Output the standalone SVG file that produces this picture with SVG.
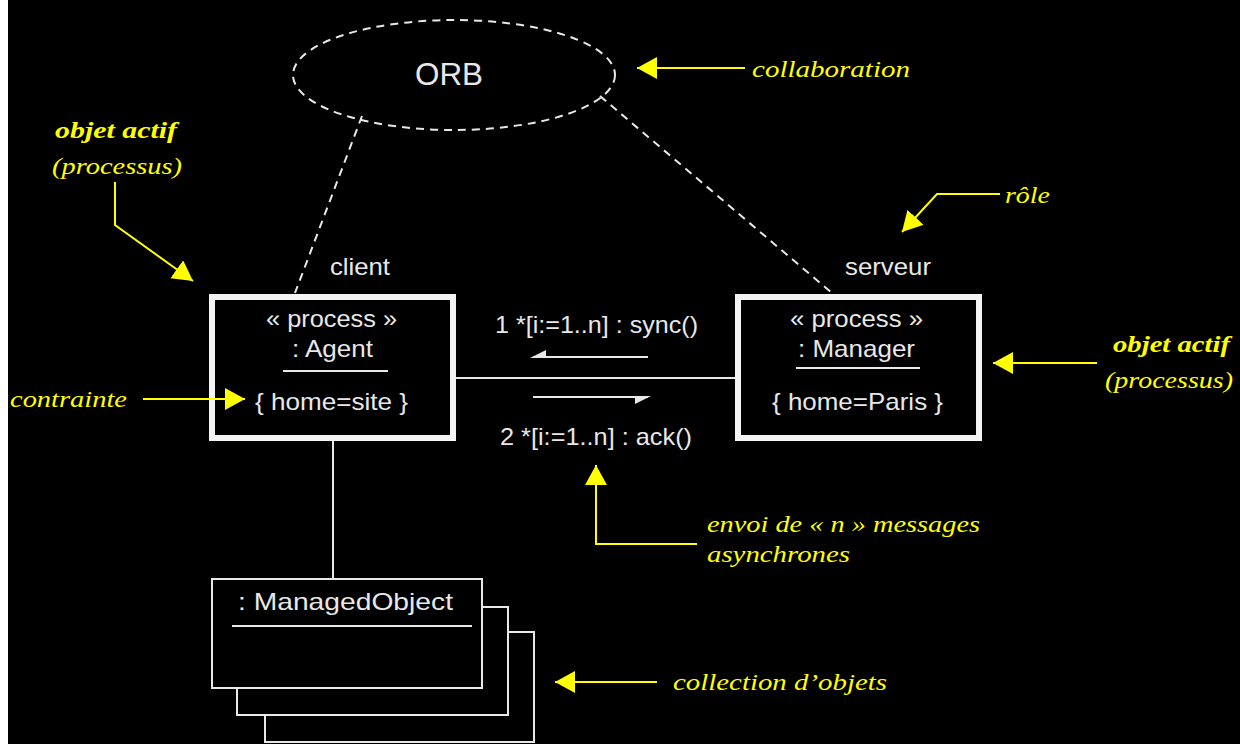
<svg xmlns="http://www.w3.org/2000/svg" width="1240" height="744" viewBox="0 0 1240 744">
<defs>
<style>
.w{font-family:"Liberation Sans",Arial,sans-serif;font-size:24px;fill:#e8e8e8}
.y{font-family:"Liberation Serif","Times New Roman",serif;font-style:italic;font-size:24px;fill:#ffff00}
.yb{font-weight:bold}
.box{fill:none;stroke:#f4f4f4;stroke-width:6}
.thin{fill:none;stroke:#e8e8e8;stroke-width:2}
.dash{fill:none;stroke:#e8e8e8;stroke-width:2;stroke-dasharray:8 6}
.ya{fill:none;stroke:#ffff00;stroke-width:2;marker-end:url(#yarrow)}
.half{fill:#e8e8e8}
</style>
<marker id="yarrow" markerUnits="userSpaceOnUse" markerWidth="22" markerHeight="24" refX="20" refY="11" orient="auto" viewBox="0 0 22 24">
<path d="M0,0 L20,11 L0,22 z" fill="#ffff00"/>
</marker>
</defs>
<rect x="0" y="0" width="1240" height="744" fill="#ffffff"/>
<rect x="8" y="0" width="1232" height="744" fill="#000000"/>

<g id="connectors">
<line class="dash" x1="362" y1="116" x2="295" y2="293"/>
<line class="dash" x1="600" y1="96" x2="832" y2="293"/>
<line class="thin" x1="456" y1="378" x2="735" y2="378"/>
<line class="thin" x1="333" y1="441" x2="333" y2="579"/>
<line class="thin" x1="533" y1="357" x2="648" y2="357"/>
<polygon class="half" points="530,358 546,350 546,358"/>
<line class="thin" x1="533" y1="397" x2="648" y2="397"/>
<polygon class="half" points="651,396 635,396 635,404"/>
<text class="w" x="495" y="333" textLength="203" lengthAdjust="spacingAndGlyphs">1 *[i:=1..n] : sync()</text>
<text class="w" x="500" y="445" textLength="192" lengthAdjust="spacingAndGlyphs">2 *[i:=1..n] : ack()</text>
</g>

<g id="orb">
<ellipse class="dash" cx="454" cy="75" rx="161" ry="55"/>
<text class="w" x="449" y="85" text-anchor="middle" style="font-size:31px" textLength="68" lengthAdjust="spacingAndGlyphs">ORB</text>
</g>

<g id="agent">
<text class="w" x="330" y="275" textLength="60" lengthAdjust="spacingAndGlyphs">client</text>
<rect class="box" x="212" y="297" width="241" height="141"/>
<text class="w" x="266" y="327" textLength="131" lengthAdjust="spacingAndGlyphs">« process »</text>
<text class="w" x="292" y="357" textLength="81" lengthAdjust="spacingAndGlyphs">: Agent</text>
<line class="thin" x1="283" y1="371" x2="388" y2="371"/>
<text class="w" x="255" y="410" textLength="153" lengthAdjust="spacingAndGlyphs">{ home=site }</text>
</g>

<g id="manager">
<text class="w" x="845" y="275" textLength="86" lengthAdjust="spacingAndGlyphs">serveur</text>
<rect class="box" x="738" y="297" width="241" height="141"/>
<text class="w" x="790" y="327" textLength="133" lengthAdjust="spacingAndGlyphs">« process »</text>
<text class="w" x="798" y="357" textLength="117" lengthAdjust="spacingAndGlyphs">: Manager</text>
<line class="thin" x1="796" y1="368" x2="920" y2="368"/>
<text class="w" x="772" y="410" textLength="171" lengthAdjust="spacingAndGlyphs">{ home=Paris }</text>
</g>

<g id="managedobject">
<rect class="thin" x="265" y="632" width="269" height="110" fill="#000"/>
<rect class="thin" x="237" y="607" width="271" height="108" fill="#000" style="fill:#000"/>
<rect class="thin" x="212" y="579" width="270" height="109" style="fill:#000"/>
<text class="w" x="238" y="610" textLength="215" lengthAdjust="spacingAndGlyphs">: ManagedObject</text>
<line class="thin" x1="232" y1="626" x2="472" y2="626"/>
</g>

<g id="annotations">
<path class="ya" d="M745,68 L637,68"/>
<text class="y" x="752" y="77" textLength="158" lengthAdjust="spacingAndGlyphs">collaboration</text>

<text class="y yb" x="55" y="138" textLength="122" lengthAdjust="spacingAndGlyphs">objet actif</text>
<text class="y" x="52" y="174" textLength="130" lengthAdjust="spacingAndGlyphs">(processus)</text>
<path class="ya" d="M115,182 L115,225 L193,281"/>

<text class="y" x="1005" y="203" textLength="45" lengthAdjust="spacingAndGlyphs">rôle</text>
<path class="ya" d="M1000,194 L937,194 L902,232"/>

<text class="y yb" x="1113" y="352" textLength="117" lengthAdjust="spacingAndGlyphs">objet actif</text>
<text class="y" x="1105" y="388" textLength="128" lengthAdjust="spacingAndGlyphs">(processus)</text>
<path class="ya" d="M1097,363 L993,363"/>

<text class="y" x="10" y="407" textLength="117" lengthAdjust="spacingAndGlyphs">contrainte</text>
<path class="ya" d="M143,399 L245,399"/>

<text class="y" x="707" y="532" textLength="273" lengthAdjust="spacingAndGlyphs">envoi de « n » messages</text>
<text class="y" x="707" y="562" textLength="143" lengthAdjust="spacingAndGlyphs">asynchrones</text>
<path class="ya" d="M697,544 L596,544 L596,465"/>

<text class="y" x="673" y="690" textLength="214" lengthAdjust="spacingAndGlyphs">collection d’objets</text>
<path class="ya" d="M657,682 L555,682"/>
</g>
</svg>
